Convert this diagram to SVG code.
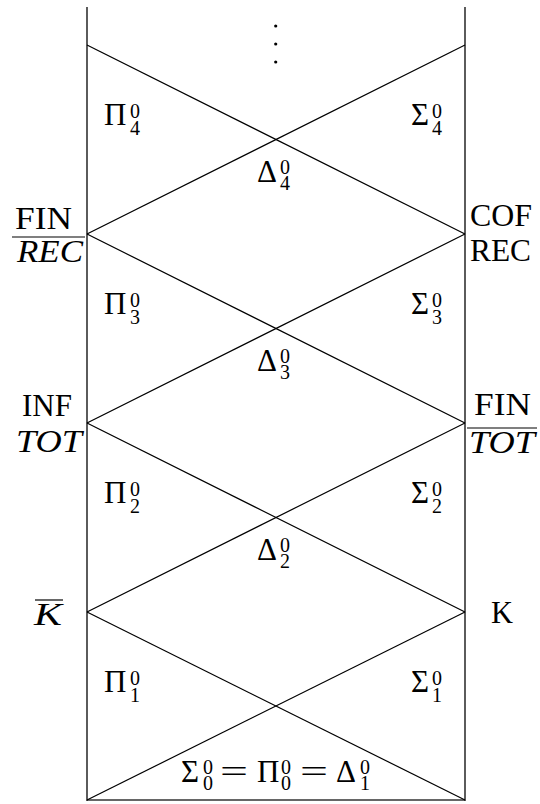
<svg xmlns="http://www.w3.org/2000/svg" width="540" height="804" viewBox="0 0 540 804">
  <style>
    .t { font-family: "Liberation Serif", "Times New Roman", serif; fill: #000; font-size: 31px; }
    .scr { font-size: 20px; }
    .it { font-style: italic; }
    .edge { stroke: #000; stroke-width: 1.2; fill: none; }
    .rail { stroke: #333; stroke-width: 1.6; fill: none; }
  </style>
  <rect width="540" height="804" fill="#fff"/>

  <!-- frame and crossing diagonals -->
  <g id="connectors">
    <line class="rail" x1="87" y1="7" x2="87" y2="801"/>
    <line class="rail" x1="465" y1="7" x2="465" y2="801"/>
    <line class="rail" x1="87" y1="800" x2="465" y2="800"/>
    <line class="edge" x1="87" y1="45" x2="465" y2="234"/>
    <line class="edge" x1="465" y1="45" x2="87" y2="234"/>
    <line class="edge" x1="87" y1="234" x2="465" y2="423"/>
    <line class="edge" x1="465" y1="234" x2="87" y2="423"/>
    <line class="edge" x1="87" y1="423" x2="465" y2="612"/>
    <line class="edge" x1="465" y1="423" x2="87" y2="612"/>
    <line class="edge" x1="87" y1="612" x2="465" y2="800"/>
    <line class="edge" x1="465" y1="612" x2="87" y2="800"/>
  </g>

  <!-- vertical ellipsis -->
  <g id="dots" fill="#000">
    <circle cx="275.7" cy="26" r="1.6"/>
    <circle cx="275.7" cy="44" r="1.6"/>
    <circle cx="275.7" cy="62" r="1.6"/>
  </g>

  <!-- level 4 -->
  <g id="pi4"><text class="t" x="104" y="125">Π<tspan class="scr" x="130" y="118">0</tspan><tspan class="scr" x="130" y="135">4</tspan></text></g>
  <g id="sigma4"><text class="t" x="411" y="125">Σ<tspan class="scr" x="432" y="118">0</tspan><tspan class="scr" x="432" y="135">4</tspan></text></g>
  <g id="delta4"><text class="t" x="257" y="182">Δ<tspan class="scr" x="280" y="174">0</tspan><tspan class="scr" x="280" y="190">4</tspan></text></g>

  <!-- level 3 -->
  <g id="pi3"><text class="t" x="104" y="314">Π<tspan class="scr" x="130" y="307">0</tspan><tspan class="scr" x="130" y="324">3</tspan></text></g>
  <g id="sigma3"><text class="t" x="411" y="314">Σ<tspan class="scr" x="432" y="307">0</tspan><tspan class="scr" x="432" y="324">3</tspan></text></g>
  <g id="delta3"><text class="t" x="257" y="371">Δ<tspan class="scr" x="280" y="363">0</tspan><tspan class="scr" x="280" y="379">3</tspan></text></g>

  <!-- level 2 -->
  <g id="pi2"><text class="t" x="104" y="503">Π<tspan class="scr" x="130" y="496">0</tspan><tspan class="scr" x="130" y="513">2</tspan></text></g>
  <g id="sigma2"><text class="t" x="411" y="503">Σ<tspan class="scr" x="432" y="496">0</tspan><tspan class="scr" x="432" y="513">2</tspan></text></g>
  <g id="delta2"><text class="t" x="257" y="560">Δ<tspan class="scr" x="280" y="552">0</tspan><tspan class="scr" x="280" y="568">2</tspan></text></g>

  <!-- level 1 -->
  <g id="pi1"><text class="t" x="104" y="692">Π<tspan class="scr" x="130" y="685">0</tspan><tspan class="scr" x="130" y="702">1</tspan></text></g>
  <g id="sigma1"><text class="t" x="411" y="692">Σ<tspan class="scr" x="432" y="685">0</tspan><tspan class="scr" x="432" y="702">1</tspan></text></g>

  <!-- base level: Sigma_0 = Pi_0 = Delta_1 -->
  <g id="base">
    <text class="t" x="181" y="782">Σ<tspan class="scr" x="203" y="774">0</tspan><tspan class="scr" x="203" y="790">0</tspan></text>
    <text class="t" x="220" y="782" textLength="28" lengthAdjust="spacingAndGlyphs">=</text>
    <text class="t" x="257" y="782">Π<tspan class="scr" x="281" y="774">0</tspan><tspan class="scr" x="281" y="790">0</tspan></text>
    <text class="t" x="300" y="782" textLength="28" lengthAdjust="spacingAndGlyphs">=</text>
    <text class="t" x="336" y="782">Δ<tspan class="scr" x="360" y="774">0</tspan><tspan class="scr" x="360" y="790">1</tspan></text>
  </g>

  <!-- side labels -->
  <g id="fin-rec">
    <text class="t" x="15" y="229" textLength="57" lengthAdjust="spacingAndGlyphs">FIN</text>
    <line x1="12" y1="237" x2="85" y2="237" stroke="#000" stroke-width="1.2"/>
    <text class="t it" x="17" y="262" textLength="66" lengthAdjust="spacingAndGlyphs">REC</text>
  </g>
  <g id="cof-rec">
    <text class="t" x="470" y="226" textLength="62" lengthAdjust="spacingAndGlyphs">COF</text>
    <text class="t" x="470" y="261" textLength="61" lengthAdjust="spacingAndGlyphs">REC</text>
  </g>
  <g id="inf-tot">
    <text class="t" x="22" y="416" textLength="50" lengthAdjust="spacingAndGlyphs">INF</text>
    <text class="t it" x="16" y="452" textLength="66" lengthAdjust="spacingAndGlyphs">TOT</text>
  </g>
  <g id="fin-tot">
    <text class="t" x="474" y="415" textLength="57" lengthAdjust="spacingAndGlyphs">FIN</text>
    <line x1="467" y1="428" x2="537" y2="428" stroke="#000" stroke-width="1.2"/>
    <text class="t it" x="469" y="453" textLength="66" lengthAdjust="spacingAndGlyphs">TOT</text>
  </g>
  <g id="k-bar">
    <line x1="35" y1="600" x2="63" y2="600" stroke="#000" stroke-width="1.2"/>
    <text class="t it" x="34" y="625" textLength="28" lengthAdjust="spacingAndGlyphs">K</text>
  </g>
  <g id="k">
    <text class="t" x="491" y="623" textLength="22" lengthAdjust="spacingAndGlyphs">K</text>
  </g>
</svg>
